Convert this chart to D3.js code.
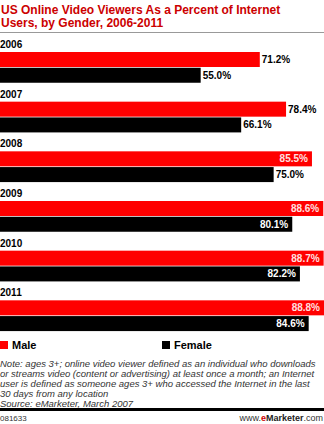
<!DOCTYPE html>
<html><head><meta charset="utf-8">
<script src="https://cdn.jsdelivr.net/npm/d3@7/dist/d3.min.js"></script>
<style>
html,body{margin:0;padding:0;background:#fff;}
svg{display:block;}
</style></head>
<body>
<script>
const years = ["2006","2007","2008","2009","2010","2011"];
const series = ["Male","Female"];
const maleValues = [71.2, 78.4, 85.5, 88.6, 88.7, 88.8];
const femaleValues = [55.0, 66.1, 75.0, 80.1, 82.2, 84.6];
const seriesColors = ["#ff0000", "#000000"];
const titleLines = ["US Online Video Viewers As a Percent of Internet", "Users, by Gender, 2006-2011"];
const noteLines = [
  "Note: ages 3+; online video viewer defined as an individual who downloads",
  "or streams video (content or advertising) at least once a month; an Internet",
  "user is defined as someone ages 3+ who accessed the Internet in the last",
  "30 days from any location",
  "Source: eMarketer, March 2007"
];
const chartId = "081633";

const W = 324, H = 424;
const svg = d3.select("body").append("svg").attr("width", W).attr("height", H);
const FONT = "'Liberation Sans', Arial, sans-serif";

// Title
svg.append("g").selectAll("text").data(titleLines).join("text")
  .attr("x", 1).attr("y", (d,i) => 14 + i*13)
  .attr("font-family", FONT).attr("font-weight", "bold").attr("font-size", 12)
  .attr("fill", "#cc0000").text(d => d);
svg.append("line").attr("x1", 0).attr("x2", W).attr("y1", 32.5).attr("y2", 32.5)
  .attr("stroke", "#999").attr("stroke-width", 1);

const data = years.map((y,i) => ({year: y, values: [maleValues[i], femaleValues[i]]}));

const x = d3.scaleLinear().domain([0, 88.8]).range([0, W]);
const y = d3.scaleBand().domain(years).range([38, 336]);
const inner = d3.scaleBand().domain(series).range([14, 45.5]);

const groups = svg.append("g").selectAll("g").data(data).join("g")
  .attr("transform", d => `translate(0,${y(d.year)})`);

groups.append("text").attr("x", 0).attr("y", 10)
  .attr("font-family", FONT).attr("font-weight", "bold").attr("font-size", 10)
  .attr("fill", "#000").text(d => d.year);

const cells = groups.selectAll("g.bar").data(d => d.values.map((v,i) => ({v, s: series[i], i})))
  .join("g").attr("class", "bar");

cells.append("rect")
  .attr("x", 0).attr("y", d => inner(d.s))
  .attr("width", d => x(d.v)).attr("height", 15)
  .attr("fill", d => seriesColors[d.i]);

cells.append("text")
  .attr("y", d => inner(d.s) + 11)
  .attr("font-family", FONT).attr("font-weight", "bold").attr("font-size", 10)
  .each(function(d){
    const label = d.v.toFixed(1) + "%";
    const inside = x(d.v) + 32 > W;
    d3.select(this)
      .attr("x", inside ? x(d.v) - 4 : x(d.v) + 2)
      .attr("text-anchor", inside ? "end" : "start")
      .attr("fill", inside ? (d.i === 0 ? "#ffe0e0" : "#ffffff") : "#000")
      .text(label);
  });

// Legend
const legend = svg.append("g").selectAll("g").data(series).join("g")
  .attr("transform", (d,i) => `translate(${i === 0 ? 0 : 162},0)`);
legend.append("rect").attr("x", 0).attr("y", 341).attr("width", 8).attr("height", 8)
  .attr("fill", (d,i) => seriesColors[i]);
legend.append("text").attr("x", 12).attr("y", 349)
  .attr("font-family", FONT).attr("font-weight", "bold").attr("font-size", 11)
  .attr("fill", "#000").text(d => d);

// Note
svg.append("g").selectAll("text").data(noteLines).join("text")
  .attr("x", 0).attr("y", (d,i) => 367 + i*10)
  .attr("font-family", FONT).attr("font-style", "italic").attr("font-size", 9.5)
  .attr("fill", "#333").text(d => d);

svg.append("rect").attr("x", 0).attr("y", 408).attr("width", W).attr("height", 3).attr("fill", "#000");

svg.append("text").attr("x", 0).attr("y", 421)
  .attr("font-family", FONT).attr("font-size", 8).attr("fill", "#333").text(chartId);

const brand = svg.append("text").attr("x", W - 1).attr("y", 421).attr("text-anchor", "end")
  .attr("font-family", FONT).attr("font-size", 9).attr("fill", "#333");
brand.append("tspan").text("www.");
brand.append("tspan").attr("fill", "#cc0000").attr("font-weight", "bold").text("e");
brand.append("tspan").attr("font-weight", "bold").attr("fill", "#222").text("Marketer");
brand.append("tspan").text(".com");
</script>
</body></html>
